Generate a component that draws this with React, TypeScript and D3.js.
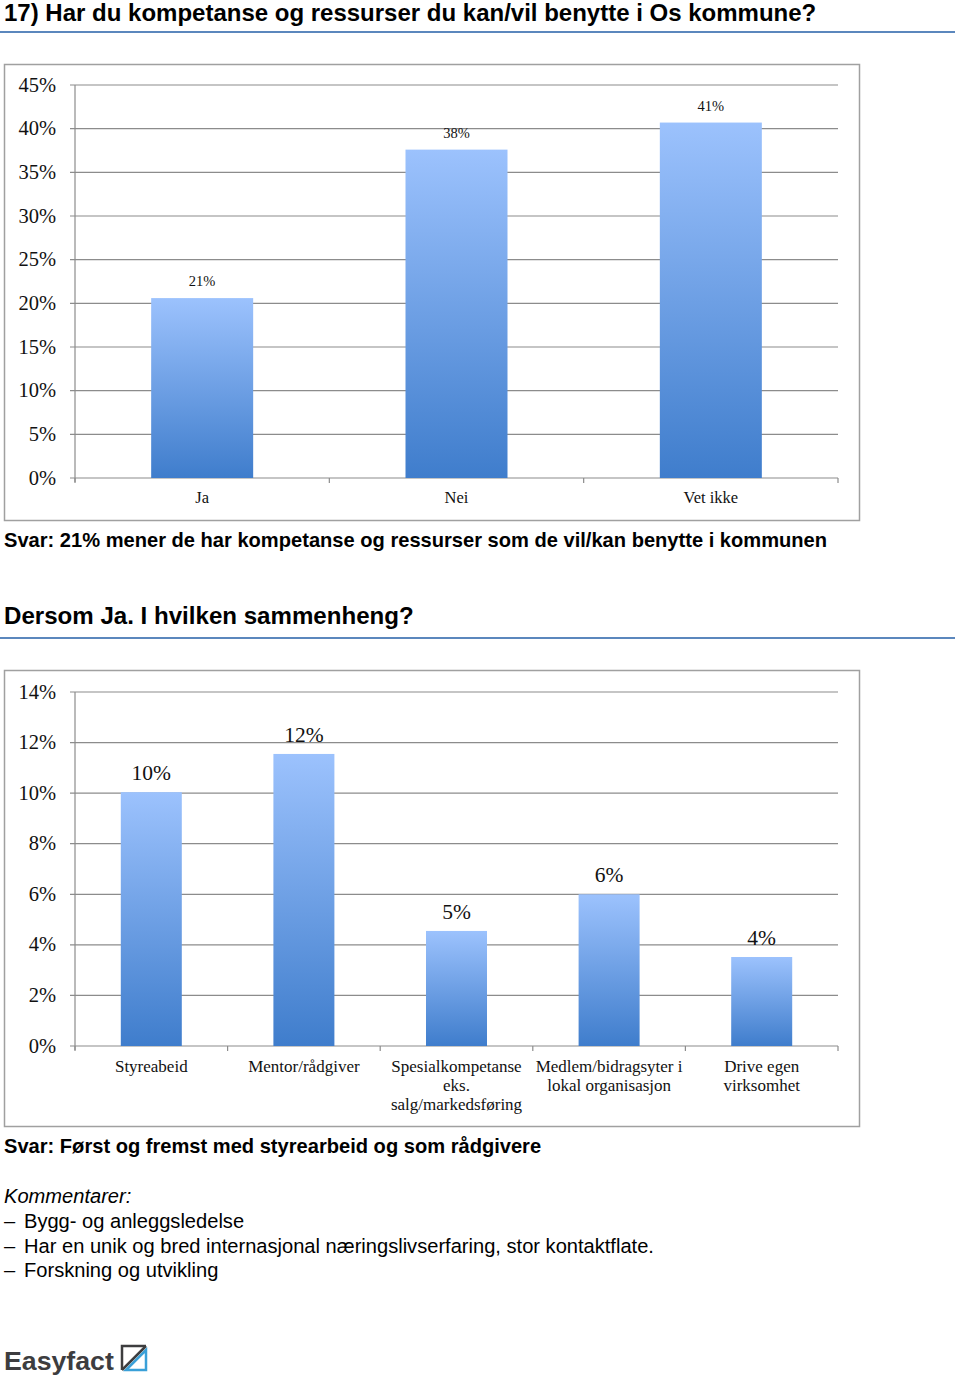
import React from "react";
import * as d3 from "d3";

// ---- Data ----
const chart1Categories = ["Ja", "Nei", "Vet ikke"];
const chart1Values = [20.6, 37.6, 40.7];
const chart1Ticks = [0, 5, 10, 15, 20, 25, 30, 35, 40, 45];

const chart2Categories = [
  ["Styreabeid"],
  ["Mentor/rådgiver"],
  ["Spesialkompetanse", "eks.", "salg/markedsføring"],
  ["Medlem/bidragsyter i", "lokal organisasjon"],
  ["Drive egen", "virksomhet"],
];
const chart2Values = [10.04, 11.55, 4.55, 6.0, 3.52];
const chart2Ticks = [0, 2, 4, 6, 8, 10, 12, 14];

const comments = [
  "Bygg- og anleggsledelse",
  "Har en unik og bred internasjonal næringslivserfaring, stor kontaktflate.",
  "Forskning og utvikling",
];

const SERIF = "'Liberation Serif', 'DejaVu Serif', serif";
const SANS = "'Liberation Sans', Arial, sans-serif";

type ChartProps = {
  top: number;
  cats: string[][];
  values: number[];
  ticks: number[];
  yTop: number;
  yBottom: number;
  barWidth: number;
  valueFont: number;
  catFont: number;
  catBaseline: number;
  gid: string;
};

function BarChart(p: ChartProps) {
  const x0 = 75;
  const x1 = 838;
  const y = d3
    .scaleLinear()
    .domain([0, p.ticks[p.ticks.length - 1]])
    .range([p.yBottom, p.yTop]);
  const x = d3
    .scaleBand<number>()
    .domain(p.cats.map((_, i) => i))
    .range([x0, x1]);
  const bw = p.barWidth;
  return (
    <g>
      <rect
        x={4.5}
        y={p.top + 0.5}
        width={855}
        height={456}
        fill="#fff"
        stroke="#a0a0a0"
        strokeWidth={1.5}
      />
      {p.ticks.map((t) => (
        <g key={t}>
          <line
            x1={x0 - 5}
            x2={x1}
            y1={y(t)}
            y2={y(t)}
            stroke="#8c8c8c"
            strokeWidth={1.2}
          />
          <text
            x={56}
            y={y(t) + 6.5}
            textAnchor="end"
            fontFamily={SERIF}
            fontSize={20.5}
            fill="#111"
          >
            {t}%
          </text>
        </g>
      ))}
      <line x1={x0} x2={x0} y1={p.yTop} y2={p.yBottom + 4} stroke="#8c8c8c" strokeWidth={1.2} />
      {d3.range(p.cats.length + 1).map((i) => {
        const xx = i < p.cats.length ? (x(i) as number) : x1;
        return (
          <line
            key={i}
            x1={xx}
            x2={xx}
            y1={p.yBottom}
            y2={p.yBottom + 5}
            stroke="#8c8c8c"
            strokeWidth={1.2}
          />
        );
      })}
      {p.values.map((v, i) => {
        const cx = (x(i) as number) + x.bandwidth() / 2;
        return (
          <g key={i}>
            <rect
              x={cx - bw / 2}
              y={y(v)}
              width={bw}
              height={p.yBottom - y(v)}
              fill={`url(#${p.gid})`}
            />
            <text
              x={cx}
              y={y(v) - 12}
              textAnchor="middle"
              fontFamily={SERIF}
              fontSize={p.valueFont}
              fill="#111"
            >
              {Math.round(v)}%
            </text>
            {p.cats[i].map((line, j) => (
              <text
                key={j}
                x={cx}
                y={p.catBaseline + j * 19}
                textAnchor="middle"
                fontFamily={SERIF}
                fontSize={p.catFont}
                fill="#111"
              >
                {line}
              </text>
            ))}
          </g>
        );
      })}
    </g>
  );
}

export default function App() {
  return (
    <svg
      width={960}
      height={1377}
      style={{ position: "absolute", left: 0, top: 0, background: "#fff" }}
    >
      <defs>
        <linearGradient id="g1" x1="0" y1="0" x2="0" y2="1">
          <stop offset="0%" stopColor="#9cc2fd" />
          <stop offset="100%" stopColor="#3f7dcc" />
        </linearGradient>
        <linearGradient id="g2" x1="0" y1="0" x2="0" y2="1">
          <stop offset="0%" stopColor="#9cc2fd" />
          <stop offset="100%" stopColor="#3f7dcc" />
        </linearGradient>
      </defs>
      <rect width={960} height={1377} fill="#fff" />

      <text x={4} y={21} fontFamily={SANS} fontWeight="bold" fontSize={24} fill="#000">
        17) Har du kompetanse og ressurser du kan/vil benytte i Os kommune?
      </text>
      <line x1={0} x2={955} y1={32} y2={32} stroke="#5b87bd" strokeWidth={2} />

      <BarChart
        top={64}
        cats={chart1Categories.map((c) => [c])}
        values={chart1Values}
        ticks={chart1Ticks}
        yTop={85}
        yBottom={478}
        barWidth={102}
        valueFont={14.5}
        catFont={16.5}
        catBaseline={503}
        gid="g1"
      />

      <text x={4} y={547} fontFamily={SANS} fontWeight="bold" fontSize={20.1} fill="#000">
        Svar: 21% mener de har kompetanse og ressurser som de vil/kan benytte i kommunen
      </text>

      <text x={4} y={624} fontFamily={SANS} fontWeight="bold" fontSize={24.1} fill="#000">
        Dersom Ja. I hvilken sammenheng?
      </text>
      <line x1={0} x2={955} y1={638} y2={638} stroke="#5b87bd" strokeWidth={2} />

      <BarChart
        top={670}
        cats={chart2Categories}
        values={chart2Values}
        ticks={chart2Ticks}
        yTop={692}
        yBottom={1046}
        barWidth={61}
        valueFont={21.5}
        catFont={17}
        catBaseline={1072}
        gid="g2"
      />

      <text x={4} y={1153} fontFamily={SANS} fontWeight="bold" fontSize={20.1} fill="#000">
        Svar: Først og fremst med styrearbeid og som rådgivere
      </text>

      <text x={4} y={1203} fontFamily={SANS} fontStyle="italic" fontSize={20.1} fill="#000">
        Kommentarer:
      </text>
      {comments.map((c, i) => (
        <g key={i}>
          <text x={4} y={1228 + i * 24.5} fontFamily={SANS} fontSize={20.1} fill="#000">
            –
          </text>
          <text x={24} y={1228 + i * 24.5} fontFamily={SANS} fontSize={20.1} fill="#000">
            {c}
          </text>
        </g>
      ))}

      <text x={4} y={1370} fontFamily={SANS} fontWeight="bold" fontSize={26.7} fill="#3d3d3f">
        Easyfact
      </text>
      <g>
        <path d="M122,1370 L122,1346 L146,1346" fill="none" stroke="#3d3d3f" strokeWidth={2.5} />
        <path d="M122,1370 L146,1346" fill="none" stroke="#3d3d3f" strokeWidth={2.5} />
        <path d="M126,1370 L146,1370 L146,1350 Z" fill="none" stroke="#3aa0d8" strokeWidth={2.5} />
      </g>
    </svg>
  );
}
